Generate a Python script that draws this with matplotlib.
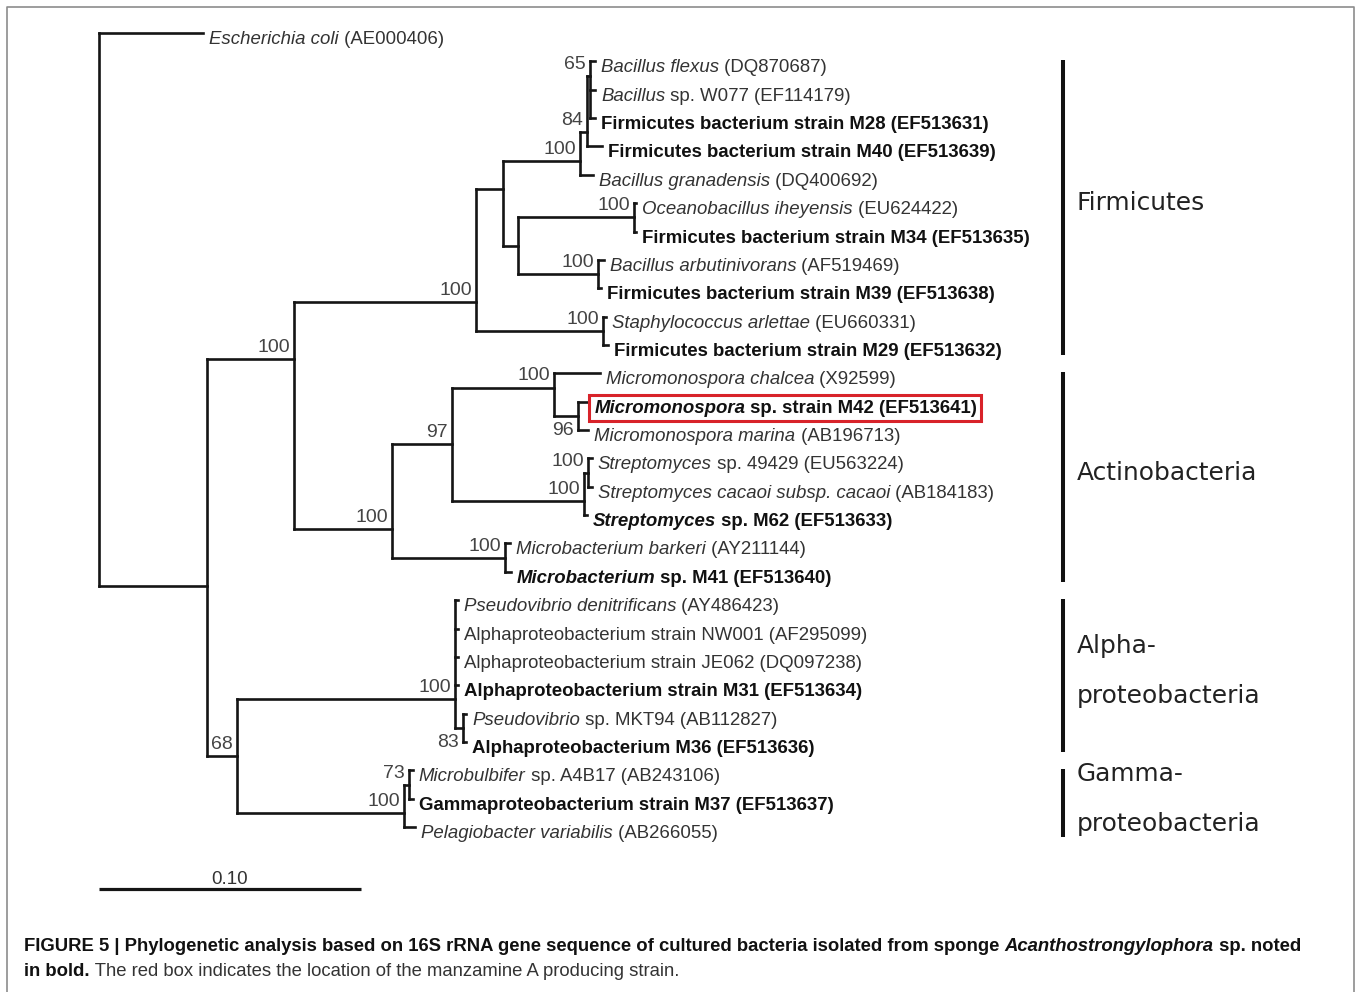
import matplotlib
matplotlib.use("Agg")
import matplotlib.pyplot as plt
from matplotlib.collections import LineCollection
from matplotlib.lines import Line2D
from matplotlib.patches import Rectangle
from matplotlib.transforms import offset_copy

plt.rcParams["font.family"] = ["Liberation Sans", "DejaVu Sans"]

# leaf labels, top to bottom, as (text, style) pieces
tip_labels = [
    [("Escherichia coli", "i"), (" (AE000406)", "r")],
    [("Bacillus flexus", "i"), (" (DQ870687)", "r")],
    [("Bacillus", "i"), (" sp. W077 (EF114179)", "r")],
    [("Firmicutes bacterium strain M28 (EF513631)", "b")],
    [("Firmicutes bacterium strain M40 (EF513639)", "b")],
    [("Bacillus granadensis", "i"), (" (DQ400692)", "r")],
    [("Oceanobacillus iheyensis", "i"), (" (EU624422)", "r")],
    [("Firmicutes bacterium strain M34 (EF513635)", "b")],
    [("Bacillus arbutinivorans", "i"), (" (AF519469)", "r")],
    [("Firmicutes bacterium strain M39 (EF513638)", "b")],
    [("Staphylococcus arlettae", "i"), (" (EU660331)", "r")],
    [("Firmicutes bacterium strain M29 (EF513632)", "b")],
    [("Micromonospora chalcea", "i"), (" (X92599)", "r")],
    [("Micromonospora", "bi"), (" sp. strain M42 (EF513641)", "b")],
    [("Micromonospora marina", "i"), (" (AB196713)", "r")],
    [("Streptomyces", "i"), (" sp. 49429 (EU563224)", "r")],
    [("Streptomyces cacaoi subsp. cacaoi", "i"), (" (AB184183)", "r")],
    [("Streptomyces", "bi"), (" sp. M62 (EF513633)", "b")],
    [("Microbacterium barkeri", "i"), (" (AY211144)", "r")],
    [("Microbacterium", "bi"), (" sp. M41 (EF513640)", "b")],
    [("Pseudovibrio denitrificans", "i"), (" (AY486423)", "r")],
    [("Alphaproteobacterium strain NW001 (AF295099)", "r")],
    [("Alphaproteobacterium strain JE062 (DQ097238)", "r")],
    [("Alphaproteobacterium strain M31 (EF513634)", "b")],
    [("Pseudovibrio", "i"), (" sp. MKT94 (AB112827)", "r")],
    [("Alphaproteobacterium M36 (EF513636)", "b")],
    [("Microbulbifer", "i"), (" sp. A4B17 (AB243106)", "r")],
    [("Gammaproteobacterium strain M37 (EF513637)", "b")],
    [("Pelagiobacter variabilis", "i"), (" (AB266055)", "r")],
]
tip_parent = ["root", "n65", "n65", "n65", "n84", "bac", "oce", "oce", "arb", "arb",
              "sta", "sta", "mmo", "n96", "n96", "stp2", "stp2", "stp", "mba", "mba",
              "alp", "alp", "alp", "alp", "n83", "n83", "n73", "n73", "gam"]
tip_len = [0.0397, 0.0019, 0.0019, 0.0019, 0.0057, 0.0050, 0.0008, 0.0008, 0.0023, 0.0011,
           0.0011, 0.0019, 0.0176, 0.0040, 0.0040, 0.0015, 0.0015, 0.0011, 0.0019, 0.0023,
           0.0011, 0.0011, 0.0011, 0.0011, 0.0011, 0.0011, 0.0015, 0.0015, 0.0042]

# internal nodes (parents listed before children)
node_ids = ["root", "n1", "n2", "firm", "bacc", "bac", "n84", "n65", "oa", "oce", "arb", "sta",
            "act", "n97", "mmo", "n96", "stp", "stp2", "mba", "n68", "alp", "n83", "gam", "n73"]
node_parent = [None, "root", "n1", "n2", "firm", "bacc", "bac", "n84", "bacc", "oa", "oa", "firm",
               "n2", "act", "n97", "mmo", "n97", "stp", "act", "n1", "n68", "alp", "n68", "gam"]
node_len = [0.0, 0.0412, 0.0332, 0.0695, 0.0103, 0.0294, 0.0027, 0.0011, 0.0057, 0.0443, 0.0305, 0.0485,
            0.0374, 0.0229, 0.0389, 0.0092, 0.0504, 0.0015, 0.0431, 0.0115, 0.0832, 0.0031, 0.0637, 0.0019]
node_row = [None, 19.5, 11.5, 9.5, 5.5, 4.5, 3.5, 1.5, 7.5, 6.5, 8.5, 10.5,
            17.5, 14.5, 12.5, 13.5, 16.5, 15.5, 18.5, 25.5, 23.5, 24.5, 27.5, 26.5]
bootstrap = [None, None, 100, 100, None, 100, 84, 65, None, 100, 100, 100,
             100, 97, 100, 96, 100, 100, 100, 68, 100, 83, 100, 73]
label_below = ["n96", "n83"]

group_names = ["Firmicutes", "Actinobacteria", "Alpha-\nproteobacteria", "Gamma-\nproteobacteria"]
group_first = [1, 12, 20, 26]
group_last = [11, 19, 25, 28]

scale_len = 0.10
highlight_tip = 13

caption_lines = [
    [("FIGURE 5 | Phylogenetic analysis based on 16S rRNA gene sequence of cultured bacteria "
      "isolated from sponge ", "b"), ("Acanthostrongylophora", "bi"), (" sp. noted", "b")],
    [("in bold.", "b"), (" The red box indicates the location of the manzamine A producing strain.", "r")],
]

W, H, DPI = 1355, 992, 100
PX_PER_UNIT = 2620.0   # 0.10 scale bar = 262 px
ROW_PX = 28.36
fig = plt.figure(figsize=(W / DPI, H / DPI), dpi=DPI)
ax = fig.add_axes([0, 0, 1, 1])
ax.set_xlim(-99 / PX_PER_UNIT, (W - 99) / PX_PER_UNIT)
ax.set_ylim((H - 33) / ROW_PX, -33 / ROW_PX)
ax.axis("off")
renderer = fig.canvas.get_renderer()

styles = {
    "r": dict(style="normal", weight="normal", color="#333333"),
    "i": dict(style="italic", weight="normal", color="#333333"),
    "b": dict(style="normal", weight="bold", color="#111111"),
    "bi": dict(style="italic", weight="bold", color="#111111"),
}


def put_pieces(x, y, pieces, dx, dy, size, trans):
    boxes = []
    for text, st in pieces:
        t = ax.text(x, y, text, fontsize=size, ha="left", va="baseline",
                    transform=offset_copy(trans, fig, x=dx, y=dy, units="dots"), **styles[st])
        bb = t.get_window_extent(renderer=renderer)
        boxes.append(bb)
        dx += bb.width
    return boxes


# node coordinates
nx, ny = {}, {}
for nid, par, bl, row in zip(node_ids, node_parent, node_len, node_row):
    nx[nid] = 0.0 if par is None else nx[par] + bl
    ny[nid] = row
children = {nid: [] for nid in node_ids}
for nid, par in zip(node_ids, node_parent):
    if par is not None:
        children[par].append((nx[nid], ny[nid]))
tip_x = []
for i, (par, bl) in enumerate(zip(tip_parent, tip_len)):
    tip_x.append(nx[par] + bl)
    children[par].append((tip_x[-1], i))

segs = []
for nid in node_ids:
    rows = [r for _, r in children[nid]]
    segs.append([(nx[nid], min(rows)), (nx[nid], max(rows))])
    for cx, cr in children[nid]:
        segs.append([(nx[nid], cr), (cx, cr)])
ax.add_collection(LineCollection(segs, colors="#151515", linewidths=1.9, capstyle="projecting"))

# bootstrap values
for nid, bs in zip(node_ids, bootstrap):
    if bs is None:
        continue
    dy = -19 if nid in label_below else 7
    ax.text(nx[nid], ny[nid], str(bs), fontsize=14, color="#444444", ha="right", va="baseline",
            transform=offset_copy(ax.transData, fig, x=-4, y=dy, units="dots"))

# leaf labels
right_edge = 0
for i, pieces in enumerate(tip_labels):
    boxes = put_pieces(tip_x[i], i, pieces, 6, -11, 13.4, ax.transData)
    right_edge = max(right_edge, boxes[-1].x1)
    if i == highlight_tip:
        x0 = boxes[0].x0 - 5
        x1 = boxes[-1].x1 + 4
        y0 = min(b.y0 for b in boxes) - 4
        y1 = max(b.y1 for b in boxes) + 5
        (fx0, fy0), (fx1, fy1) = fig.transFigure.inverted().transform([(x0, y0), (x1, y1)])
        fig.add_artist(Rectangle((fx0, fy0), fx1 - fx0, fy1 - fy0, transform=fig.transFigure,
                                 fill=False, edgecolor="#d8232a", linewidth=2.2))

# group bars and names
bar_x = ax.transData.inverted().transform((right_edge + 33, 0))[0]
for name, r0, r1 in zip(group_names, group_first, group_last):
    ax.plot([bar_x, bar_x], [r0 - 0.05, r1 + 0.35], color="#111111", lw=2.9, solid_capstyle="butt")
    mid = (r0 + r1 + 0.3) / 2
    lines = name.split("\n")
    for k, line in enumerate(lines):
        off = (k - (len(lines) - 1) / 2) * 50 - 4
        ax.text(bar_x, mid, line, fontsize=17.9, family="DejaVu Sans", color="#222222",
                ha="left", va="center",
                transform=offset_copy(ax.transData, fig, x=14, y=-off, units="dots"))

# scale bar
sb_row = len(tip_labels) + 1.2
ax.plot([0, scale_len], [sb_row, sb_row], color="#151515", lw=2.3, solid_capstyle="butt")
ax.text(scale_len / 2, sb_row, f"{scale_len:.2f}", fontsize=13.5, color="#333333", ha="center",
        va="baseline", transform=offset_copy(ax.transData, fig, x=0, y=5, units="dots"))

# caption
for k, pieces in enumerate(caption_lines):
    put_pieces(24 / W, 1 - (951 + 25 * k) / H, pieces, 0, 0, 13.3, fig.transFigure)

# frame
fx = [7 / W, 7 / W, 1354 / W, 1354 / W]
fy = [0, 1 - 7 / H, 1 - 7 / H, 0]
fig.add_artist(Line2D(fx, fy, transform=fig.transFigure, color="#8c8c8c", lw=1.2))

fig.savefig("out.png", dpi=DPI)
